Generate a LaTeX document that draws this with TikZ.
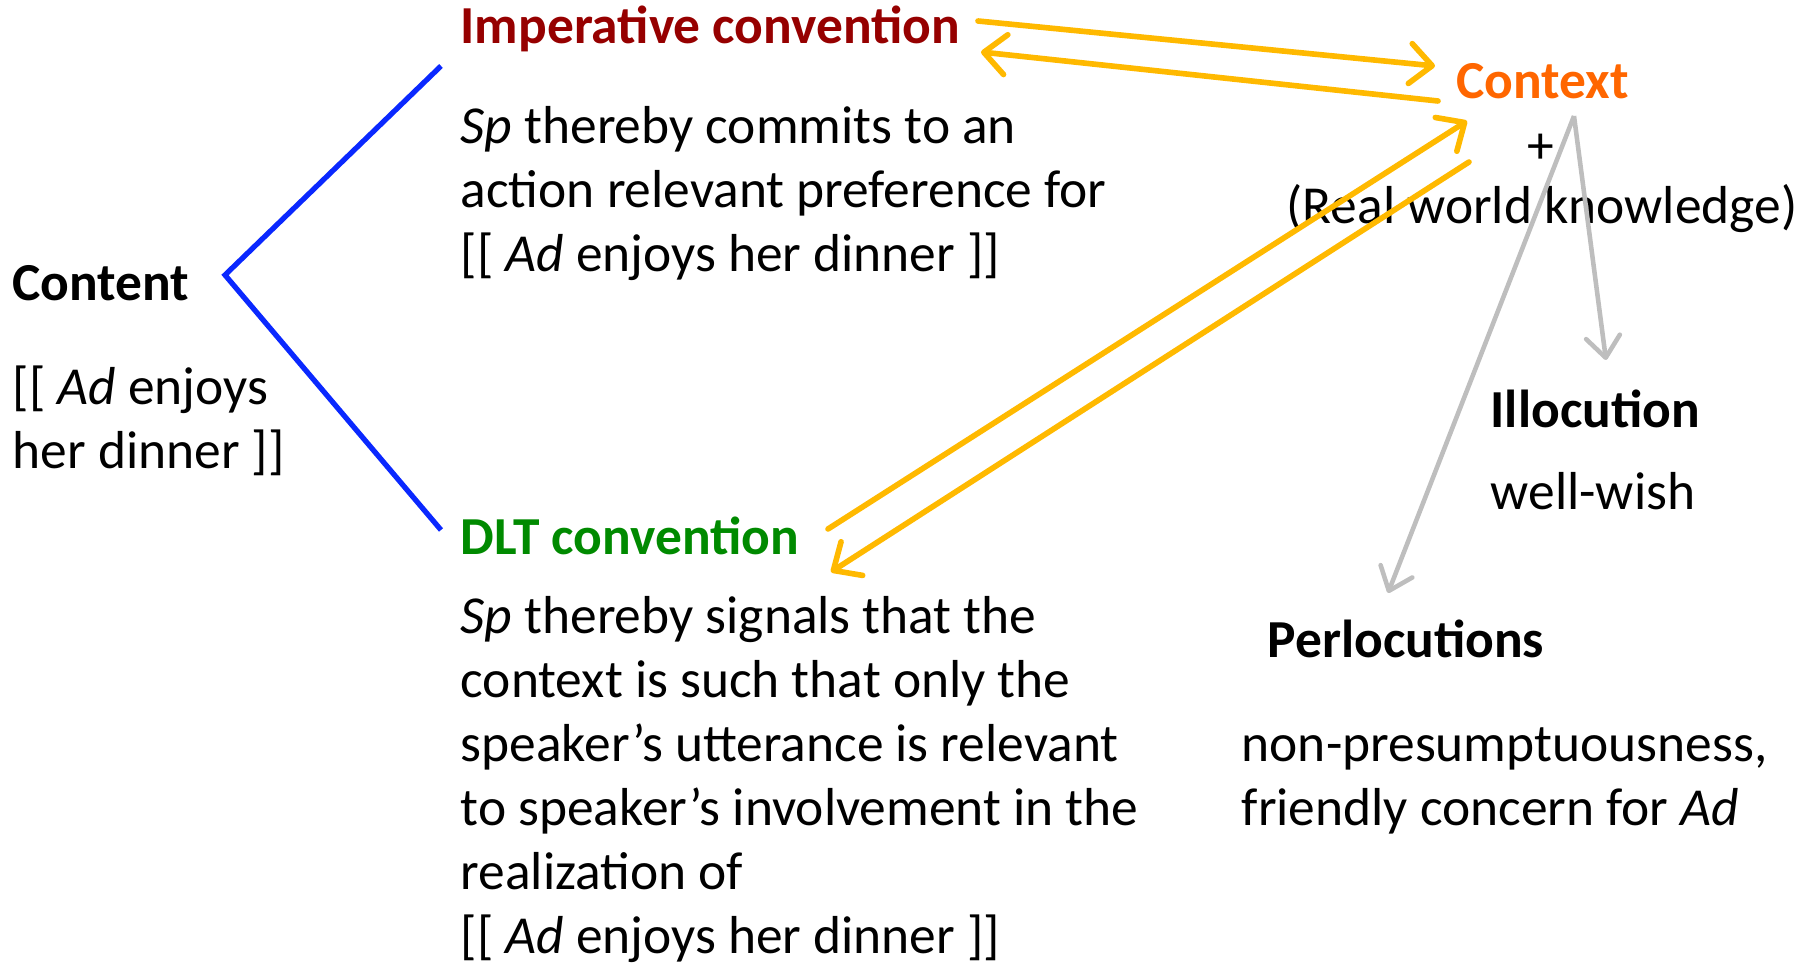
\documentclass[tikz,border=0pt]{standalone}
\usepackage{fontspec}
\setmainfont{Carlito}
\usetikzlibrary{arrows.meta,calc,positioning}

\definecolor{impred}{HTML}{960000}
\definecolor{dltgreen}{HTML}{008A00}
\definecolor{ctxorange}{HTML}{FF6600}
\definecolor{linkgold}{HTML}{FFB900}
\definecolor{forkblue}{HTML}{0A28FF}
\definecolor{effgray}{HTML}{BEBEBE}

\tikzset{
  txt/.style={anchor=base west, inner sep=0pt, align=left,
    font=\fontsize{15.2}{18.2}\selectfont},
  head/.style={txt, font=\fontsize{15.2}{18.2}\selectfont\bfseries},
  link/.style={draw=linkgold, line width=1.6pt, line cap=round,
    -{Straight Barb[round,length=2.2mm,width=4mm,line width=1.6pt]}},
  effect/.style={draw=effgray, line width=1.3pt,
    -{Straight Barb[round,length=2.1mm,width=3.4mm,line width=1.3pt]}},
  branch/.style={draw=forkblue, line width=1.5pt}
}

\begin{document}
\begin{tikzpicture}[x=0.01cm,y=-0.01cm]
\useasboundingbox (0,0) rectangle (1814,967);

% Content (multi-line nodes sit on their last baseline)
\node [head] (content) at (12,301) {Content};
\node [txt] (contentbody) at (12,469) {[[ \textit{Ad} enjoys\\her dinner ]]};

% the two conventions
\node [head, text=impred] (imp) at (460,44) {Imperative convention};
\node [txt] (impbody) at (460,272) {\textit{Sp} thereby commits to an\\action relevant preference for\\\relax[[ \textit{Ad} enjoys her dinner ]]};
\node [head, text=dltgreen] (dlt) at (460,555) {DLT convention};
\node [txt] (dltbody) at (460,954) {\textit{Sp} thereby signals that the\\context is such that only the\\speaker’s utterance is relevant\\to speaker’s involvement in the\\realization of\\\relax[[ \textit{Ad} enjoys her dinner ]]};

% Context
\node [head, text=ctxorange] (ctx) at (1456,99) {Context};
\node [txt, anchor=base] (plus) at (1541,164) {+};
\node [txt, anchor=base] (rwk) at (1542,224) {(Real world knowledge)};

% effects
\node [head] (illoc) at (1490,428) {Illocution};
\node [txt] (wish) at (1490,510) {well-wish};
\node [head] (perloc) at (1267,658) {Perlocutions};
\node [txt] (perlocbody) at (1241,826) {non-presumptuousness,\\friendly concern for \textit{Ad}};

% fork from the content
\coordinate (fork) at (225,275);
\coordinate (impfork) at (441,66);
\coordinate (dltfork) at (441,530);
\draw [branch] (impfork) -- (fork) -- (dltfork);

% conventions <-> context
\coordinate (impout) at (978,21);
\coordinate (ctxin) at (1435,66);
\coordinate (ctxout) at (1438,101);
\coordinate (impin) at (981,52);
\draw [link] (impout) -- (ctxin);
\draw [link] (ctxout) -- (impin);

\coordinate (dltout) at (828,529);
\coordinate (ctxinb) at (1467,121);
\coordinate (ctxoutb) at (1469,162);
\coordinate (dltin) at (831,572);
\draw [link] (dltout) -- (ctxinb);
\draw [link] (ctxoutb) -- (dltin);

% context -> illocution, perlocutions
\coordinate (ctxfoot) at (1574,116);
\coordinate (illocin) at (1606,360);
\coordinate (perlocin) at (1388,593);
\draw [effect] (ctxfoot) -- (illocin);
\draw [effect] (ctxfoot) -- (perlocin);

\end{tikzpicture}
\end{document}
